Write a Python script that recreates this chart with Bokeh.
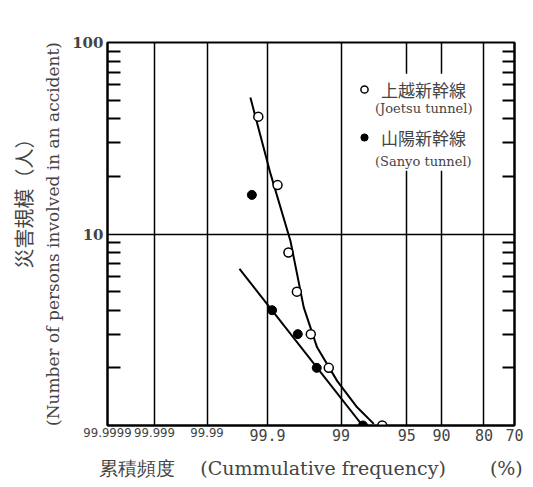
from statistics import NormalDist
from bokeh.plotting import figure
from bokeh.models import (Range1d, FixedTicker, LogAxis, LinearAxis, Title, Legend,
                          LegendItem, BoxAnnotation)
from bokeh.embed import file_html
from bokeh.resources import INLINE

# ---------------- data ----------------
joetsu_freq = [99.928, 99.859, 99.797, 99.733, 99.587, 99.294, 97.12]
joetsu_persons = [41, 18, 8, 5, 3, 2, 1]
sanyo_freq = [99.943, 99.883, 99.725, 99.505, 98.21]
sanyo_persons = [16, 4, 3, 2, 1]

# hand-drawn fit curves
joetsu_fit_freq = [99.946, 99.889, 99.783, 99.668, 99.50, 99.105, 98.46, 97.65]
joetsu_fit_persons = [51.6, 20.6, 9.2, 4.14, 2.56, 1.71, 1.245, 1.02]
sanyo_fit_freq = [99.964, 98.23]
sanyo_fit_persons = [6.57, 1.0]

x_ticks_small = [99.9999, 99.999, 99.99]
x_tick_labels_small = ["99.9999", "99.999", "99.99"]
x_ticks_large = [99.9, 99, 95, 90, 80, 70]
x_tick_labels_large = ["99.9", "99", "95", "90", "80", "70"]
y_major = [1, 10, 100]
y_major_labels = ["", "10", "100"]

series_names = ["上越新幹線", "山陽新幹線"]
series_sub = ["(Joetsu tunnel)", "(Sanyo tunnel)"]

# normal-probability scale
ND = NormalDist()
def prob(pct):
    return -ND.inv_cdf(pct / 100.0)

def probs(lst):
    return [prob(v) for v in lst]

SERIF = "DejaVu Serif"
JP = "Noto Sans CJK JP"

p = figure(width=532, height=487,
           x_range=Range1d(prob(x_ticks_small[0]), prob(x_ticks_large[-1])),
           y_range=Range1d(y_major[0], y_major[-1]),
           y_axis_type="log", output_backend="svg", toolbar_location=None,
           min_border_left=107, min_border_right=18, min_border_top=42, min_border_bottom=62)
p.background_fill_color = "white"
p.border_fill_color = "white"
p.outline_line_color = "black"
p.outline_line_width = 2

# ---- x axes ----
all_x = x_ticks_small + x_ticks_large
xt = FixedTicker(ticks=probs(all_x))

xa = p.xaxis[0]
xa.ticker = xt
ov = {prob(v): "" for v in x_ticks_small}
ov.update({prob(v): l for v, l in zip(x_ticks_large, x_tick_labels_large)})
xa.major_label_overrides = ov
xa.major_tick_in = 0
xa.major_tick_out = 0
xa.minor_tick_in = 0
xa.minor_tick_out = 0
xa.axis_line_width = 2
xa.major_label_text_font = "DejaVu Sans Mono"
xa.major_label_text_font_size = "15px"
xa.major_label_standoff = 3

# second axis carrying the condensed small labels and the axis title
xb = LinearAxis(ticker=xt)
ov2 = {prob(v): "" for v in x_ticks_large}
ov2.update({prob(v): l for v, l in zip(x_ticks_small, x_tick_labels_small)})
xb.major_label_overrides = ov2
xb.axis_line_alpha = 0
xb.major_tick_in = 0
xb.major_tick_out = 0
xb.minor_tick_in = 0
xb.minor_tick_out = 0
xb.major_label_text_font = "DejaVu Sans Condensed"
xb.major_label_text_font_size = "13px"
xb.major_label_standoff = -16
xb.axis_label = "累積頻度\u3000 (Cummulative frequency)\u3000\u3000 (%)"
xb.axis_label_text_font = SERIF
xb.axis_label_text_font_size = "19px"
xb.axis_label_text_font_style = "normal"
xb.axis_label_standoff = 17
p.add_layout(xb, "below")

# ---- y axes ----
y_minor = [m * d for d in y_major[:-1] for m in range(2, 10)]
yt = FixedTicker(ticks=y_major, minor_ticks=y_minor)
ya = p.yaxis[0]
ya.ticker = yt
ya.major_label_overrides = {v: l for v, l in zip(y_major, y_major_labels)}
ya.major_tick_in = 0
ya.major_tick_out = 0
ya.minor_tick_in = 13
ya.minor_tick_out = 0
ya.minor_tick_line_width = 2
ya.axis_line_width = 2
ya.major_label_text_font = SERIF
ya.major_label_text_font_style = "bold"
ya.major_label_text_font_size = "15px"
ya.major_label_standoff = 4
ya.axis_label = "(Number of persons involved in an accident)"
ya.axis_label_text_font = SERIF
ya.axis_label_text_font_size = "17px"
ya.axis_label_text_font_style = "normal"
ya.axis_label_standoff = 6

ra = LogAxis(ticker=yt)
ra.major_label_overrides = {v: "" for v in y_major}
ra.major_tick_in = 0
ra.major_tick_out = 0
ra.minor_tick_in = 12
ra.minor_tick_out = 0
ra.minor_tick_line_width = 2
ra.axis_line_width = 2
p.add_layout(ra, "right")

p.add_layout(Title(text="災害規模（人）", align="right", offset=86, standoff=5,
                   text_font=JP, text_font_size="20px", text_font_style="normal"), "left")

# ---- grids ----
p.xgrid.ticker = xt
p.xgrid.grid_line_color = "black"
p.xgrid.grid_line_width = 1.5
p.ygrid.ticker = yt
p.ygrid.grid_line_color = "black"
p.ygrid.grid_line_width = 1.5

# ---- data ----
p.line(probs(joetsu_fit_freq), joetsu_fit_persons, line_color="black", line_width=2)
p.line(probs(sanyo_fit_freq), sanyo_fit_persons, line_color="black", line_width=2)
rj = p.scatter(probs(joetsu_freq), joetsu_persons, marker="circle", size=9,
               fill_color="white", line_color="black", line_width=1.5)
rs = p.scatter(probs(sanyo_freq), sanyo_persons, marker="circle", size=9,
               fill_color="black", line_color="black", line_width=1)
blank = p.scatter([], [], marker="circle", size=0, fill_alpha=0, line_alpha=0)

# ---- legend ----
p.add_layout(BoxAnnotation(left=prob(98.706), right=prob(81.0), bottom=21.4, top=68.7,
                           fill_color="white", fill_alpha=1, line_alpha=0))
legA = Legend(items=[LegendItem(label=series_names[0], renderers=[rj]),
                     LegendItem(label=series_names[1], renderers=[rs])],
              location=(248, 275), padding=0, margin=0, spacing=22,
              glyph_width=18, glyph_height=26, label_height=26, label_standoff=8,
              label_text_font=JP, label_text_font_size="17px",
              background_fill_alpha=0, border_line_alpha=0)
legB = Legend(items=[LegendItem(label=series_sub[0], renderers=[blank]),
                     LegendItem(label=series_sub[1], renderers=[blank])],
              location=(268, 254), padding=0, margin=0, spacing=33,
              glyph_width=0, glyph_height=20, label_height=20, label_standoff=0,
              label_text_font=SERIF, label_text_font_size="13px",
              background_fill_alpha=0, border_line_alpha=0)
p.add_layout(legA)
p.add_layout(legB)

open("out.html", "w").write(file_html(p, INLINE))
